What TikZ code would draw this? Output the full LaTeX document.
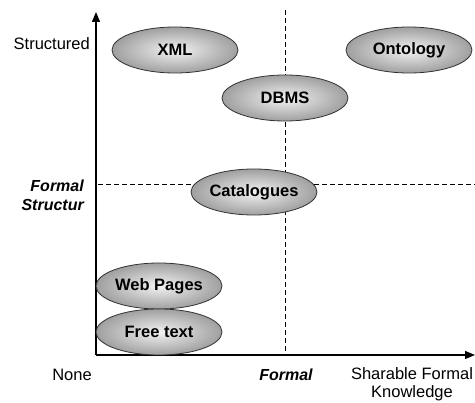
\documentclass[tikz,border=0pt]{standalone}
\usepackage{fontspec}
\setmainfont{Liberation Sans}
\usetikzlibrary{shapes.geometric,arrows.meta}
\begin{document}
\begin{tikzpicture}[x=1pt,y=-1pt,
  blob/.style={ellipse,draw=black!80,line width=0.8pt,inner color=gray!10,outer color=gray!75,
    minimum width=126pt,minimum height=46pt,font=\bfseries\fontsize{16.5}{18}\selectfont,inner sep=0pt},
  lbl/.style={font=\fontsize{16.5}{19}\selectfont,inner sep=0pt},
  blbl/.style={font=\bfseries\itshape\fontsize{16}{19}\selectfont,inner sep=0pt},
  axis/.style={line width=1.2pt,-{Triangle[length=10pt,width=8pt]}},
  guide/.style={line width=0.7pt,dash pattern=on 5pt off 3pt}]
\useasboundingbox (0,0) rectangle (475,403);
\coordinate (O) at (96,355);
\coordinate (Ytop) at (96,12);
\coordinate (Xend) at (475,355);
\coordinate (Vtop) at (285,10);
\coordinate (Vbot) at (285,355);
\coordinate (Hl) at (98,184);
\coordinate (Hr) at (475,184);
\draw[guide] (Vtop) -- (Vbot);
\draw[guide] (Hl) -- (Hr);
\draw[axis] (O) -- (Ytop);
\draw[axis] (O) -- (Xend);
\node[blob] (xml) at (175,50) {XML};
\node[blob] (onto) at (409,50) {Ontology};
\node[blob] (dbms) at (285,98) {DBMS};
\node[blob] (cat) at (254,192) {Catalogues};
\node[blob] (web) at (159,286) {Web Pages};
\node[blob] (free) at (159,332) {Free text};
\node[lbl,anchor=base east] (structured) at (90,50) {Structured};
\node[blbl,anchor=base east] (fs1) at (84,192) {Formal};
\node[blbl,anchor=base east] (fs2) at (84,211) {Structur};
\node[lbl,anchor=base] (none) at (72,381) {None};
\node[blbl,anchor=base] (formal) at (286,381) {Formal};
\node[lbl,anchor=base] (share1) at (412,380) {Sharable Formal};
\node[lbl,anchor=base] (share2) at (412,398) {Knowledge};
\end{tikzpicture}
\end{document}
